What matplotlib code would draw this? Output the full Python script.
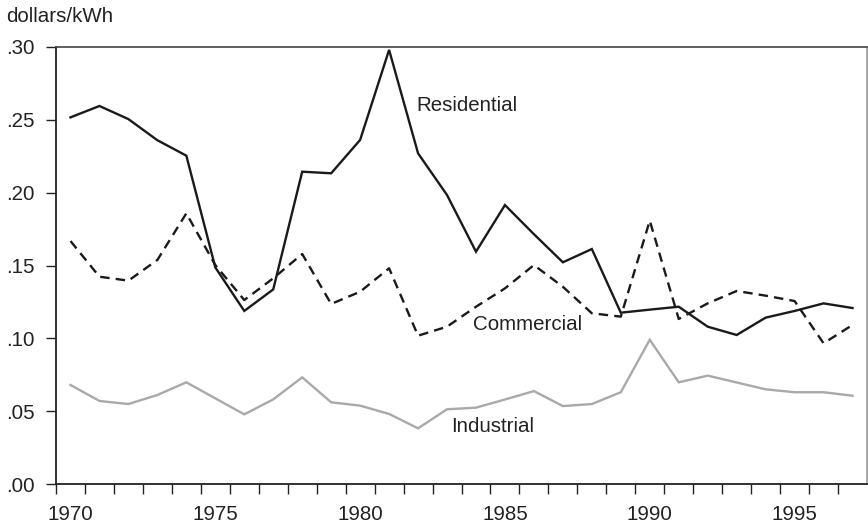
import matplotlib
matplotlib.use("Agg")
import matplotlib.pyplot as plt
from matplotlib.ticker import FixedLocator, FuncFormatter

plt.rcParams['font.family'] = ['Liberation Sans', 'DejaVu Sans']

years = list(range(1970, 1998))
residential = [0.2517, 0.2595, 0.2505, 0.2360, 0.2254, 0.1487, 0.1188, 0.1336,
               0.2144, 0.2133, 0.2362, 0.2980, 0.2270, 0.1984, 0.1595, 0.1915,
               0.1715, 0.1522, 0.1613, 0.1176, 0.1197, 0.1217, 0.1080, 0.1023,
               0.1142, 0.1188, 0.1240, 0.1208]
commercial = [0.1668, 0.1423, 0.1396, 0.1538, 0.1858, 0.1503, 0.1263, 0.1412,
              0.1579, 0.1236, 0.1320, 0.1481, 0.1018, 0.1080, 0.1217, 0.1343,
              0.1503, 0.1354, 0.1172, 0.1149, 0.1808, 0.1133, 0.1240, 0.1325,
              0.1293, 0.1256, 0.0966, 0.1092]
industrial = [0.0680, 0.0570, 0.0549, 0.0611, 0.0698, 0.0588, 0.0478, 0.0581,
              0.0732, 0.0561, 0.0538, 0.0481, 0.0382, 0.0513, 0.0524, 0.0580,
              0.0638, 0.0535, 0.0549, 0.0630, 0.0990, 0.0698, 0.0744, 0.0697,
              0.0650, 0.0630, 0.0630, 0.0606]
year_labels = [1970, 1975, 1980, 1985, 1990, 1995]
y_ticks = [0.00, 0.05, 0.10, 0.15, 0.20, 0.25, 0.30]

fig = plt.figure(figsize=(8.68, 5.27), dpi=100)
ax = fig.add_axes([56/868, 43/527, 811/868, 437/527])

txt = '#222222'
ax.plot(years, industrial, color='#a9a9a9', lw=1.7, solid_joinstyle='miter')
ax.plot(years, commercial, color='#1a1a1a', lw=1.7, dashes=(4.0, 2.6))
ax.plot(years, residential, color='#1a1a1a', lw=1.7, solid_joinstyle='miter')

ax.set_xlim(1969.5, 1997.5)
ax.set_ylim(0, 0.30)

ax.xaxis.set_major_locator(FixedLocator(year_labels))
ax.xaxis.set_minor_locator(FixedLocator([y + 0.5 for y in range(1969, 1997)]))
ax.tick_params(axis='x', which='major', length=0, pad=15, labelsize=14.8, labelcolor=txt)
ax.tick_params(axis='x', which='minor', length=7.5, width=1.0, color='#222222', direction='out')

ax.yaxis.set_major_locator(FixedLocator(y_ticks))
ax.yaxis.set_major_formatter(FuncFormatter(lambda v, p: ('%.2f' % v)[1:]))
ax.tick_params(axis='y', which='major', length=7.5, width=1.0, color='#222222', pad=8,
               labelsize=14.8, labelcolor=txt)

for s in ['left', 'bottom']:
    ax.spines[s].set_color('#222222')
    ax.spines[s].set_linewidth(1.3)
ax.spines['top'].set_color('#444444')
ax.spines['top'].set_linewidth(1.2)
ax.spines['right'].set_color('#9a9a9a')
ax.spines['right'].set_linewidth(1.2)

ax.text(1981.95, 0.260, 'Residential', fontsize=14.8, color=txt, va='center', ha='left')
ax.text(1983.91, 0.1092, 'Commercial', fontsize=14.8, color=txt, va='center', ha='left')
ax.text(1983.13, 0.0394, 'Industrial', fontsize=14.8, color=txt, va='center', ha='left')

fig.text(6/868, 1 - 17/527, 'dollars/kWh', fontsize=14.8, color=txt, va='center', ha='left')

fig.savefig('out.png', dpi=100)
